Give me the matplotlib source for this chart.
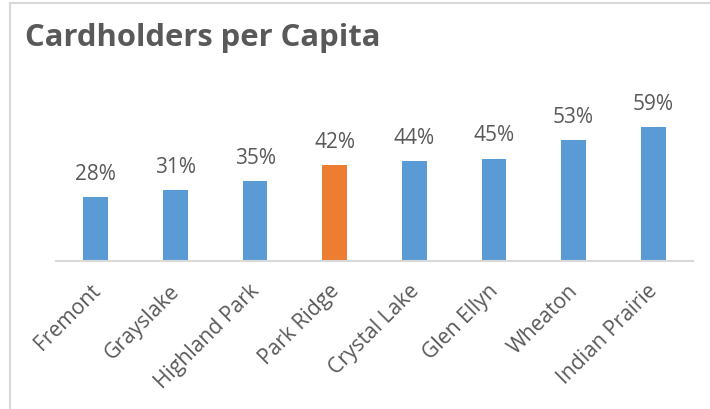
import matplotlib
matplotlib.use("Agg")
import matplotlib.pyplot as plt
import matplotlib.transforms as mtransforms
from matplotlib.patches import Rectangle

categories = ["Fremont", "Grayslake", "Highland Park", "Park Ridge",
              "Crystal Lake", "Glen Ellyn", "Wheaton", "Indian Prairie"]
values = [28, 31, 35, 42, 44, 45, 53, 59]
labels = ["28%", "31%", "35%", "42%", "44%", "45%", "53%", "59%"]
highlight = "Park Ridge"

BLUE = "#5B9BD5"
ORANGE = "#ED7D31"
TEXT = "#595959"

plt.rcParams["font.family"] = ["Open Sans", "DejaVu Sans"]

W, H = 710, 410
fig = plt.figure(figsize=(W / 100, H / 100), dpi=100)

# outer chart border (left and top visible; right/bottom run off the image)
fig.patches.append(Rectangle((10 / W, -0.5), 2, (H - 3.5) / H + 0.5, transform=fig.transFigure,
                             fill=False, edgecolor="#D9D9D9", linewidth=1.5, zorder=0))

ax = fig.add_axes([56 / W, (H - 262) / H, (693 - 56) / W, (262 - 80) / H])
colors = [ORANGE if c == highlight else BLUE for c in categories]
x = list(range(len(categories)))
bars = ax.bar(x, values, width=0.31, color=colors, zorder=2)
ax.set_xlim(-0.5, len(categories) - 0.5)
ax.set_ylim(0, 80)

for b, lab in zip(bars, labels):
    ax.annotate(lab, (b.get_x() + b.get_width() / 2, b.get_height()),
                xytext=(0, 9.5), textcoords="offset points", ha="center", va="bottom",
                fontsize=15, color=TEXT)

ax.set_xticks(x)
ax.set_xticklabels(categories, rotation=45, ha="right", rotation_mode="anchor",
                   fontsize=15.2, color=TEXT)
ax.tick_params(axis="x", length=0, pad=12)
shift = mtransforms.ScaledTranslation(-6 / 100, -2 / 100, fig.dpi_scale_trans)
for t in ax.get_xticklabels():
    t.set_transform(t.get_transform() + shift)
ax.set_yticks([])
for s in ["top", "right", "left"]:
    ax.spines[s].set_visible(False)
ax.spines["bottom"].set_color("#D9D9D9")
ax.spines["bottom"].set_linewidth(1.5)

fig.text(25 / W, 1 - 46 / H, "Cardholders per Capita", fontsize=22.3, fontweight="bold",
         color=TEXT, ha="left", va="baseline")

fig.savefig("out.png", dpi=100)
